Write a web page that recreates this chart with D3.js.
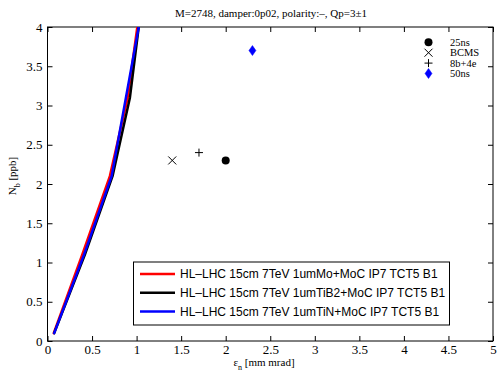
<!DOCTYPE html>
<html>
<head>
<meta charset="utf-8">
<script src="https://cdn.jsdelivr.net/npm/d3@7"></script>
<style>
  body { margin: 0; background: #fff; }
  svg { display: block; }
</style>
</head>
<body>
<div id="chart"></div>
<script>
// curve data: Nb vs emittance for each collimator configuration
const nbValues = [0.1, 1.1, 2.1, 3.1, 4.1];
const emitMo   = [0.07, 0.39, 0.70, 0.90, 1.02];
const emitTiB2 = [0.075, 0.42, 0.73, 0.925, 1.035];
const emitTiN  = [0.075, 0.41, 0.72, 0.88, 1.04];
const seriesNames = [
    'HL\u2013LHC 15cm 7TeV 1umMo+MoC IP7 TCT5 B1',
    'HL\u2013LHC 15cm 7TeV 1umTiB2+MoC IP7 TCT5 B1',
    'HL\u2013LHC 15cm 7TeV 1umTiN+MoC IP7 TCT5 B1'
];
const seriesColors = ['#ff0000', '#000000', '#0000ff'];

// beam type points
const beamNames = ['25ns', 'BCMS', '8b+4e', '50ns'];
const beamEmit  = [2.0, 1.4, 1.7, 2.3];
const beamNb    = [2.3, 2.3, 2.4, 3.7];

const xTicks = [0, 0.5, 1, 1.5, 2, 2.5, 3, 3.5, 4, 4.5, 5];
const yTicks = [0, 0.5, 1, 1.5, 2, 2.5, 3, 3.5, 4];

const W = 497, H = 371;
const margin = { top: 27, right: 4, bottom: 30, left: 47.5 };
const width = 493 - margin.left, height = 341 - margin.top;

let svg = d3.select('#chart').append('svg')
    .attr('width', W).attr('height', H);

let x = d3.scaleLinear().domain([0, 5]).range([0, width]);
let y = d3.scaleLinear().domain([0, 4]).range([height, 0]);

let main = svg.append('g')
    .attr('transform', 'translate(' + margin.left + ',' + margin.top + ')');

svg.append('defs').append('clipPath').attr('id', 'clip')
    .append('rect').attr('width', width).attr('height', height);

// axes with inward ticks on all sides
const serif = 'Liberation Serif, Times New Roman, serif';
let fmt = d => d3.format('~g')(d);

let axBottom = main.append('g').attr('transform', 'translate(0,' + height + ')')
    .call(d3.axisBottom(x).tickValues(xTicks).tickFormat(fmt).tickSizeInner(-5).tickSizeOuter(0).tickPadding(5));
let axTop = main.append('g')
    .call(d3.axisTop(x).tickValues(xTicks).tickFormat('').tickSizeInner(-5).tickSizeOuter(0));
let axLeft = main.append('g')
    .call(d3.axisLeft(y).tickValues(yTicks).tickFormat(fmt).tickSizeInner(-5).tickSizeOuter(0).tickPadding(5));
let axRight = main.append('g').attr('transform', 'translate(' + width + ',0)')
    .call(d3.axisRight(y).tickValues(yTicks).tickFormat('').tickSizeInner(-5).tickSizeOuter(0));

[axBottom, axTop, axLeft, axRight].forEach(a => {
    a.selectAll('text').style('font-family', serif).style('font-size', '13px').attr('fill', '#000');
    a.select('.domain').remove();
    a.selectAll('line').attr('stroke', '#000');
});
axBottom.selectAll('text').attr('dy', '0.62em');

main.append('rect').attr('width', width).attr('height', height)
    .attr('fill', 'none').attr('stroke', '#000').attr('stroke-width', 1);

// curves
let line = d3.line()
    .x(d => x(d[0]))
    .y(d => y(d[1]));

let curves = [emitMo, emitTiB2, emitTiN];
let g = main.append('g').attr('clip-path', 'url(#clip)');
curves.forEach((c, i) => {
    g.append('path')
        .datum(c.map((e, j) => [e, nbValues[j]]))
        .attr('d', line)
        .attr('fill', 'none')
        .attr('stroke', seriesColors[i])
        .attr('stroke-width', 2.5)
        .attr('stroke-linejoin', 'round')
        .attr('stroke-linecap', 'round');
});

// beam markers
function marker(sel, kind, cx, cy) {
    if (kind == 0) {
        sel.append('circle').attr('cx', cx).attr('cy', cy).attr('r', 4).attr('fill', '#000');
    } else if (kind == 1) {
        sel.append('path').attr('d', `M${cx-4},${cy-4}L${cx+4},${cy+4}M${cx-4},${cy+4}L${cx+4},${cy-4}`)
            .attr('stroke', '#000').attr('stroke-width', 1);
    } else if (kind == 2) {
        sel.append('path').attr('d', `M${cx-4},${cy}L${cx+4},${cy}M${cx},${cy-4}L${cx},${cy+4}`)
            .attr('stroke', '#000').attr('stroke-width', 1);
    } else {
        sel.append('path').attr('d', `M${cx},${cy-5}L${cx+3.5},${cy}L${cx},${cy+5}L${cx-3.5},${cy}Z`)
            .attr('fill', '#0000ff').attr('stroke', '#0000ff').attr('stroke-width', 0.5);
    }
}
beamNames.forEach((n, i) => marker(main, i, x(beamEmit[i]), y(beamNb[i])));

// beam legend (no box)
beamNames.forEach((n, i) => {
    let ly = 15.3 + i * 10.4;
    marker(main, i, 381, ly);
    main.append('text').attr('x', 402.5).attr('y', ly).attr('dy', '0.35em')
        .style('font-family', serif).style('font-size', '10.5px').text(n);
});

// series legend
let leg = main.append('g');
leg.append('rect').attr('x', 86).attr('y', 235).attr('width', 316).attr('height', 63)
    .attr('fill', '#fff').attr('stroke', '#000').attr('stroke-width', 1);
seriesNames.forEach((n, i) => {
    let ly = 247 + i * 18.8;
    leg.append('line').attr('x1', 92.5).attr('x2', 127.5).attr('y1', ly).attr('y2', ly)
        .attr('stroke', seriesColors[i]).attr('stroke-width', 2.5);
    leg.append('text').attr('x', 132.5).attr('y', ly).attr('dy', '0.35em')
        .style('font-family', 'Liberation Sans, Arial, sans-serif').style('font-size', '12px').text(n);
});

// title and axis labels
svg.append('text').attr('x', 271).attr('y', 17).attr('text-anchor', 'middle')
    .style('font-family', serif).style('font-size', '11px')
    .text('M=2748, damper:0p02, polarity:\u2013, Qp=3\u00b11');

let xl = svg.append('text').attr('x', 264).attr('y', 366).attr('text-anchor', 'middle')
    .style('font-family', serif).style('font-size', '11px');
xl.append('tspan').text('\u03b5');
xl.append('tspan').attr('dy', 4).style('font-size', '8px').text('n');
xl.append('tspan').attr('dy', -4).text(' [mm mrad]');

let yl = svg.append('text').attr('transform', 'translate(16,176) rotate(-90)').attr('text-anchor', 'middle')
    .style('font-family', serif).style('font-size', '11px');
yl.append('tspan').text('N');
yl.append('tspan').attr('dy', 4).style('font-size', '8px').text('b');
yl.append('tspan').attr('dy', -4).text(' [ppb]');
</script>
</body>
</html>
